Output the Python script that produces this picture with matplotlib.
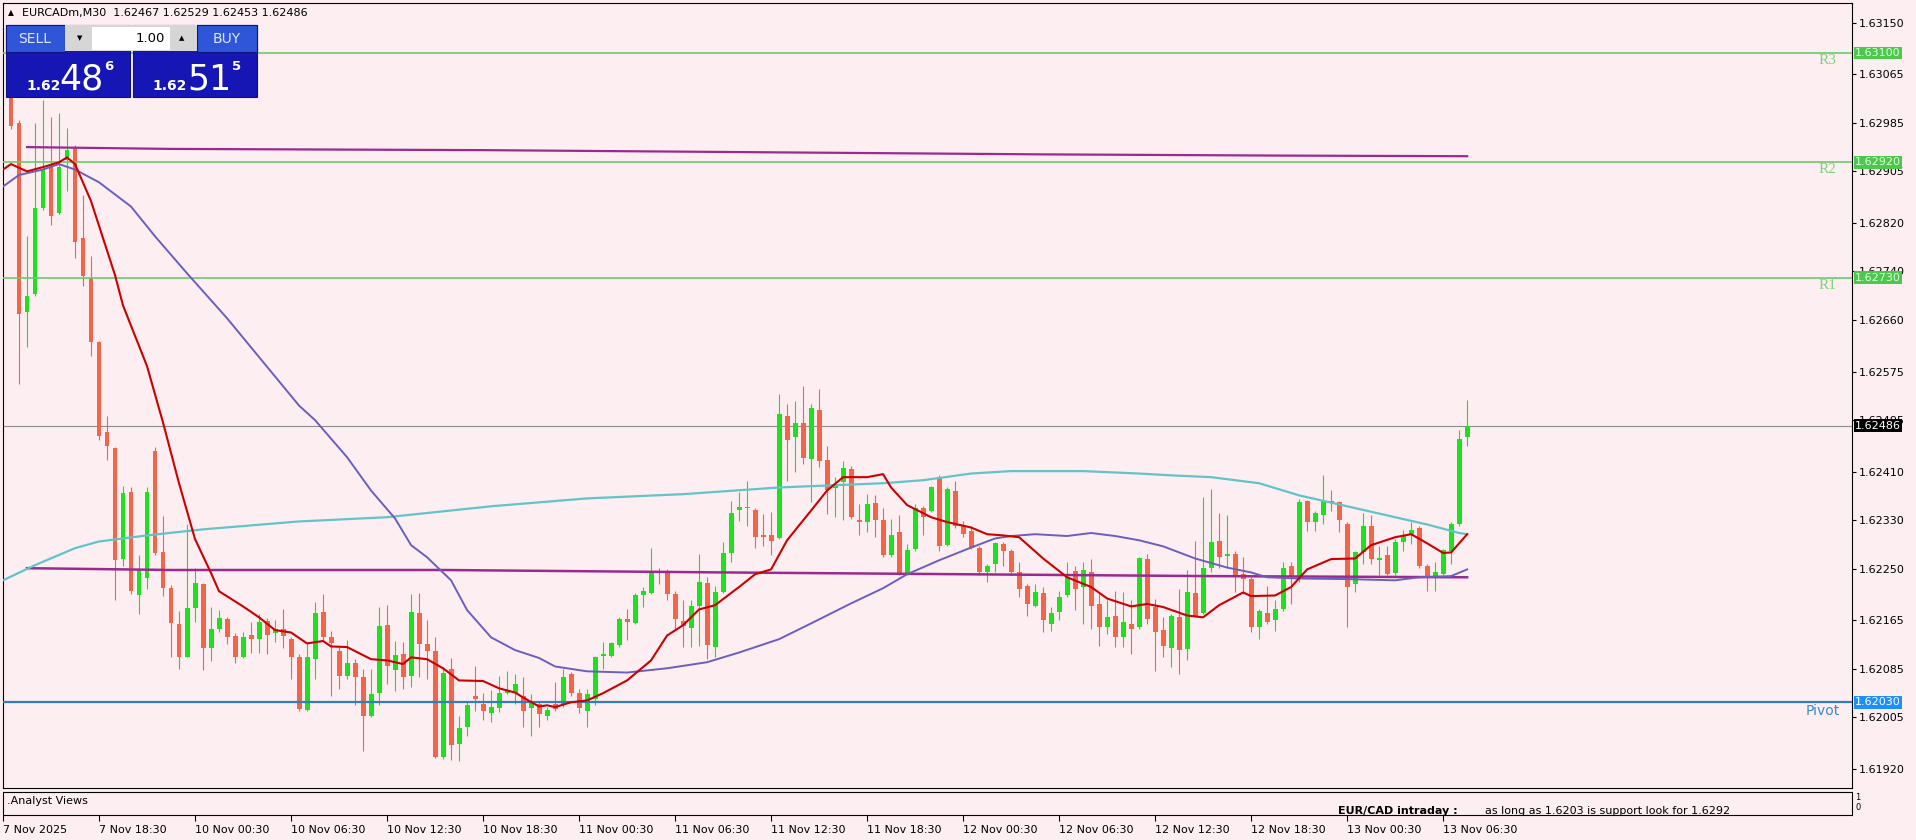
import matplotlib
matplotlib.use("Agg")
import matplotlib.pyplot as plt
import matplotlib.transforms as mtransforms
from matplotlib.patches import Rectangle


# M30 candles, bar 1 .. 183 (bar 0 sits under the left frame)
opens = [1.63030, 1.62985, 1.62673, 1.62703, 1.62844, 1.62912, 1.62837, 1.62923, 1.62944, 1.62796,
         1.62730, 1.62624, 1.62475, 1.62449, 1.62266, 1.62376, 1.62206, 1.62234, 1.62444, 1.62278,
         1.62219, 1.62159, 1.62105, 1.62185, 1.62225, 1.62119, 1.62151, 1.62167, 1.62139, 1.62105,
         1.62141, 1.62134, 1.62164, 1.62144, 1.62151, 1.62134, 1.62104, 1.62017, 1.62101, 1.62178,
         1.62137, 1.62115, 1.62074, 1.62094, 1.62071, 1.62008, 1.62045, 1.62158, 1.62083, 1.62110,
         1.62074, 1.62177, 1.62126, 1.62114, 1.61939, 1.62085, 1.61962, 1.61990, 1.62040, 1.62027,
         1.62012, 1.62021, 1.62045, 1.62046, 1.62041, 1.62021, 1.62027, 1.62008, 1.62027, 1.62025,
         1.62076, 1.62045, 1.62016, 1.62035, 1.62106, 1.62107, 1.62125, 1.62167, 1.62160, 1.62206,
         1.62210, 1.62247, 1.62244, 1.62209, 1.62164, 1.62153, 1.62188, 1.62226, 1.62121, 1.62211,
         1.62276, 1.62347, 1.62350, 1.62347, 1.62306, 1.62306, 1.62301, 1.62501, 1.62468, 1.62490,
         1.62431, 1.62512, 1.62429, 1.62383, 1.62393, 1.62415, 1.62331, 1.62327, 1.62358, 1.62330,
         1.62272, 1.62310, 1.62243, 1.62283, 1.62351, 1.62346, 1.62401, 1.62290, 1.62379, 1.62321,
         1.62313, 1.62284, 1.62244, 1.62258, 1.62291, 1.62280, 1.62244, 1.62222, 1.62189, 1.62210,
         1.62159, 1.62178, 1.62206, 1.62247, 1.62220, 1.62244, 1.62192, 1.62154, 1.62173, 1.62138,
         1.62159, 1.62154, 1.62266, 1.62187, 1.62149, 1.62120, 1.62171, 1.62118, 1.62210, 1.62177,
         1.62252, 1.62295, 1.62271, 1.62275, 1.62241, 1.62233, 1.62154, 1.62177, 1.62166, 1.62184,
         1.62255, 1.62235, 1.62361, 1.62327, 1.62339, 1.62361, 1.62360, 1.62324, 1.62225, 1.62277,
         1.62321, 1.62265, 1.62272, 1.62243, 1.62294, 1.62306, 1.62318, 1.62255, 1.62237, 1.62242,
         1.62280, 1.62323, 1.62467]
highs = [1.63045, 1.62990, 1.62798, 1.62984, 1.63023, 1.62994, 1.63001, 1.62976, 1.62949, 1.62866,
         1.62766, 1.62626, 1.62501, 1.62451, 1.62387, 1.62384, 1.62273, 1.62384, 1.62451, 1.62337,
         1.62223, 1.62180, 1.62323, 1.62251, 1.62226, 1.62187, 1.62182, 1.62171, 1.62144, 1.62146,
         1.62162, 1.62176, 1.62169, 1.62166, 1.62184, 1.62137, 1.62110, 1.62127, 1.62195, 1.62209,
         1.62148, 1.62121, 1.62132, 1.62101, 1.62085, 1.62085, 1.62187, 1.62191, 1.62131, 1.62129,
         1.62209, 1.62210, 1.62165, 1.62137, 1.62088, 1.62103, 1.62008, 1.62030, 1.62090, 1.62045,
         1.62050, 1.62074, 1.62082, 1.62077, 1.62071, 1.62043, 1.62030, 1.62022, 1.62063, 1.62085,
         1.62080, 1.62052, 1.62052, 1.62107, 1.62130, 1.62129, 1.62170, 1.62184, 1.62210, 1.62220,
         1.62285, 1.62252, 1.62250, 1.62214, 1.62198, 1.62198, 1.62275, 1.62236, 1.62221, 1.62294,
         1.62362, 1.62376, 1.62395, 1.62351, 1.62340, 1.62343, 1.62538, 1.62522, 1.62527, 1.62552,
         1.62522, 1.62546, 1.62453, 1.62401, 1.62427, 1.62420, 1.62356, 1.62373, 1.62371, 1.62351,
         1.62332, 1.62339, 1.62291, 1.62357, 1.62354, 1.62387, 1.62404, 1.62384, 1.62395, 1.62329,
         1.62320, 1.62287, 1.62258, 1.62294, 1.62294, 1.62283, 1.62262, 1.62225, 1.62225, 1.62220,
         1.62187, 1.62214, 1.62262, 1.62255, 1.62261, 1.62266, 1.62209, 1.62198, 1.62214, 1.62211,
         1.62198, 1.62269, 1.62274, 1.62200, 1.62170, 1.62176, 1.62217, 1.62248, 1.62296, 1.62369,
         1.62382, 1.62342, 1.62339, 1.62280, 1.62269, 1.62236, 1.62184, 1.62222, 1.62198, 1.62261,
         1.62261, 1.62365, 1.62364, 1.62346, 1.62404, 1.62380, 1.62362, 1.62327, 1.62280, 1.62342,
         1.62338, 1.62288, 1.62288, 1.62299, 1.62314, 1.62327, 1.62321, 1.62258, 1.62262, 1.62283,
         1.62327, 1.62478, 1.62529]
lows = [1.62975, 1.62555, 1.62616, 1.62700, 1.62841, 1.62816, 1.62834, 1.62873, 1.62762, 1.62716,
        1.62601, 1.62462, 1.62430, 1.62198, 1.62255, 1.62209, 1.62176, 1.62216, 1.62273, 1.62205,
        1.62105, 1.62085, 1.62104, 1.62162, 1.62084, 1.62098, 1.62146, 1.62126, 1.62094, 1.62103,
        1.62112, 1.62112, 1.62109, 1.62130, 1.62119, 1.62069, 1.62016, 1.62016, 1.62068, 1.62132,
        1.62041, 1.62052, 1.62068, 1.62025, 1.61950, 1.62005, 1.62025, 1.62060, 1.62049, 1.62052,
        1.62055, 1.62071, 1.62068, 1.61938, 1.61936, 1.61935, 1.61934, 1.61975, 1.62016, 1.62001,
        1.61997, 1.62014, 1.62043, 1.62027, 1.61989, 1.61975, 1.61989, 1.62001, 1.62015, 1.62022,
        1.62041, 1.62012, 1.61989, 1.62025, 1.62085, 1.62105, 1.62121, 1.62133, 1.62159, 1.62187,
        1.62209, 1.62225, 1.62198, 1.62151, 1.62121, 1.62121, 1.62123, 1.62101, 1.62104, 1.62210,
        1.62261, 1.62329, 1.62321, 1.62285, 1.62288, 1.62272, 1.62299, 1.62395, 1.62409, 1.62423,
        1.62360, 1.62417, 1.62340, 1.62335, 1.62330, 1.62332, 1.62305, 1.62310, 1.62302, 1.62269,
        1.62269, 1.62240, 1.62239, 1.62280, 1.62305, 1.62343, 1.62280, 1.62288, 1.62318, 1.62302,
        1.62283, 1.62240, 1.62228, 1.62244, 1.62255, 1.62240, 1.62203, 1.62173, 1.62187, 1.62145,
        1.62148, 1.62165, 1.62203, 1.62182, 1.62159, 1.62151, 1.62123, 1.62143, 1.62121, 1.62121,
        1.62110, 1.62151, 1.62159, 1.62082, 1.62104, 1.62088, 1.62076, 1.62099, 1.62170, 1.62176,
        1.62244, 1.62252, 1.62252, 1.62211, 1.62209, 1.62145, 1.62134, 1.62159, 1.62147, 1.62181,
        1.62192, 1.62228, 1.62313, 1.62312, 1.62324, 1.62345, 1.62310, 1.62154, 1.62211, 1.62258,
        1.62258, 1.62239, 1.62239, 1.62240, 1.62280, 1.62291, 1.62252, 1.62213, 1.62214, 1.62239,
        1.62258, 1.62321, 1.62453]
closes = [1.62980, 1.62670, 1.62699, 1.62844, 1.62909, 1.62832, 1.62912, 1.62941, 1.62789, 1.62732,
          1.62624, 1.62469, 1.62453, 1.62264, 1.62375, 1.62214, 1.62248, 1.62376, 1.62276, 1.62219,
          1.62161, 1.62105, 1.62185, 1.62226, 1.62119, 1.62151, 1.62169, 1.62137, 1.62104, 1.62137,
          1.62134, 1.62162, 1.62141, 1.62151, 1.62139, 1.62105, 1.62019, 1.62104, 1.62177, 1.62137,
          1.62127, 1.62074, 1.62094, 1.62072, 1.62008, 1.62044, 1.62156, 1.62090, 1.62108, 1.62071,
          1.62179, 1.62126, 1.62114, 1.61940, 1.62079, 1.61960, 1.61988, 1.62026, 1.62035, 1.62015,
          1.62023, 1.62046, 1.62049, 1.62060, 1.62016, 1.62028, 1.62011, 1.62017, 1.62019, 1.62072,
          1.62046, 1.62021, 1.62043, 1.62104, 1.62110, 1.62127, 1.62167, 1.62163, 1.62206, 1.62214,
          1.62244, 1.62245, 1.62209, 1.62167, 1.62155, 1.62188, 1.62228, 1.62125, 1.62211, 1.62276,
          1.62342, 1.62352, 1.62352, 1.62303, 1.62303, 1.62295, 1.62505, 1.62462, 1.62490, 1.62433,
          1.62515, 1.62427, 1.62380, 1.62390, 1.62416, 1.62335, 1.62327, 1.62356, 1.62331, 1.62272,
          1.62306, 1.62242, 1.62281, 1.62351, 1.62335, 1.62384, 1.62288, 1.62382, 1.62321, 1.62307,
          1.62285, 1.62244, 1.62254, 1.62292, 1.62280, 1.62244, 1.62217, 1.62192, 1.62211, 1.62166,
          1.62177, 1.62203, 1.62236, 1.62217, 1.62248, 1.62188, 1.62154, 1.62171, 1.62137, 1.62162,
          1.62151, 1.62268, 1.62167, 1.62145, 1.62123, 1.62173, 1.62116, 1.62211, 1.62173, 1.62251,
          1.62294, 1.62269, 1.62275, 1.62236, 1.62233, 1.62154, 1.62180, 1.62162, 1.62184, 1.62251,
          1.62236, 1.62360, 1.62327, 1.62342, 1.62361, 1.62358, 1.62331, 1.62220, 1.62277, 1.62320,
          1.62266, 1.62268, 1.62242, 1.62294, 1.62305, 1.62314, 1.62255, 1.62236, 1.62244, 1.62281,
          1.62324, 1.62464, 1.62486]

# moving averages (bar index, price)
red_ma_bars = [0, 1, 3, 5, 7, 8, 9, 11, 14, 15, 18, 20, 22, 24, 26, 27, 30, 32, 34, 36,
               38, 40, 41, 43, 46, 48, 50, 51, 53, 55, 57, 60, 62, 64, 65, 67, 68, 69, 71, 73,
               75, 78, 81, 83, 85, 87, 89, 92, 94, 96, 98, 101, 103, 105, 108, 110, 111, 113, 116, 118,
               121, 123, 125, 127, 130, 133, 136, 138, 141, 143, 145, 148, 150, 152, 155, 156, 159, 161, 163, 166,
               169, 171, 174, 176, 178, 180, 181, 183]
red_ma_vals = [1.62908, 1.62917, 1.62905, 1.62912, 1.62920, 1.62928, 1.62917, 1.62856, 1.62734, 1.62684,
               1.62584, 1.62491, 1.62391, 1.62299, 1.62243, 1.62213, 1.62188, 1.62170, 1.62149, 1.62145,
               1.62127, 1.62131, 1.62122, 1.62121, 1.62101, 1.62099, 1.62093, 1.62104, 1.62101, 1.62086,
               1.62066, 1.62065, 1.62053, 1.62046, 1.62038, 1.62023, 1.62025, 1.62022, 1.62030, 1.62033,
               1.62045, 1.62066, 1.62099, 1.62140, 1.62157, 1.62183, 1.62190, 1.62220, 1.62241, 1.62249,
               1.62297, 1.62346, 1.62379, 1.62401, 1.62401, 1.62406, 1.62384, 1.62355, 1.62335, 1.62327,
               1.62318, 1.62307, 1.62305, 1.62302, 1.62267, 1.62236, 1.62220, 1.62201, 1.62188, 1.62192,
               1.62187, 1.62173, 1.62170, 1.62190, 1.62211, 1.62205, 1.62206, 1.62220, 1.62249, 1.62266,
               1.62267, 1.62289, 1.62302, 1.62307, 1.62292, 1.62276, 1.62277, 1.62307]

blue_ma_bars = [0, 2, 5, 7, 9, 12, 16, 19, 23, 28, 32, 37, 39, 43, 46, 49, 51, 53, 56, 58,
                61, 64, 67, 69, 73, 78, 83, 88, 92, 97, 101, 106, 110, 113, 117, 121, 124, 126, 129, 133,
                136, 139, 142, 145, 149, 153, 156, 158, 162, 168, 174, 177, 181, 183]
blue_ma_vals = [1.62880, 1.62899, 1.62908, 1.62917, 1.62908, 1.62887, 1.62847, 1.62798, 1.62737, 1.62663,
                1.62599, 1.62519, 1.62495, 1.62434, 1.62379, 1.62333, 1.62289, 1.62269, 1.62231, 1.62182,
                1.62137, 1.62116, 1.62103, 1.62089, 1.62081, 1.62079, 1.62086, 1.62096, 1.62112, 1.62134,
                1.62160, 1.62193, 1.62218, 1.62241, 1.62264, 1.62285, 1.62300, 1.62304, 1.62307, 1.62304,
                1.62309, 1.62304, 1.62297, 1.62287, 1.62267, 1.62252, 1.62244, 1.62236, 1.62234, 1.62233,
                1.62231, 1.62236, 1.62238, 1.62249]

cyan_ma_bars = [0, 4, 9, 12, 18, 25, 37, 48, 61, 73, 85, 97, 110, 115, 121, 126, 135, 142, 146, 151,
                157, 162, 167, 174, 178, 182, 183]
cyan_ma_vals = [1.62231, 1.62256, 1.62284, 1.62295, 1.62305, 1.62315, 1.62328, 1.62335, 1.62353, 1.62366,
                1.62373, 1.62384, 1.62391, 1.62396, 1.62407, 1.62411, 1.62411, 1.62407, 1.62404, 1.62401,
                1.62391, 1.62371, 1.62356, 1.62335, 1.62323, 1.62309, 1.62307]

upper_band_bars = [3, 21, 60, 100, 130, 160, 183]
upper_band_vals = [1.62945, 1.62942, 1.62940, 1.62936, 1.62933, 1.62931, 1.62930]
lower_band_bars = [3, 21, 55, 90, 120, 150, 183]
lower_band_vals = [1.62251, 1.62248, 1.62248, 1.62244, 1.62241, 1.62238, 1.62236]

level_names = ["R3", "R2", "R1", "Pivot"]
level_prices = [1.63100, 1.62920, 1.62730, 1.62030]
last_price = 1.62486

price_ticks = [1.63150, 1.63065, 1.62985, 1.62905, 1.62820, 1.62740, 1.62660, 1.62575,
               1.62495, 1.62410, 1.62330, 1.62250, 1.62165, 1.62085, 1.62005, 1.61920]
time_labels = ["7 Nov 2025", "7 Nov 18:30", "10 Nov 00:30", "10 Nov 06:30", "10 Nov 12:30",
               "10 Nov 18:30", "11 Nov 00:30", "11 Nov 06:30", "11 Nov 12:30", "11 Nov 18:30",
               "12 Nov 00:30", "12 Nov 06:30", "12 Nov 12:30", "12 Nov 18:30", "13 Nov 00:30",
               "13 Nov 06:30"]

W, H = 1916, 840
BG = "#fdeef2"
BULL = "#1fe01f"
BEAR = "#f26549"


def fx(x):
    return x / W


def fy(y):
    return 1 - y / H


def draw_candles(ax):
    bars = list(range(1, len(opens) + 1))
    colors = [BULL if c >= o else BEAR for o, c in zip(opens, closes)]
    ax.vlines(bars, lows, highs, colors=colors, linewidth=0.8, zorder=3)
    bottoms = [min(o, c) for o, c in zip(opens, closes)]
    heights = [max(abs(c - o), 0.000015) for o, c in zip(opens, closes)]
    ax.bar(bars, heights, bottom=bottoms, width=0.62, color=colors, linewidth=0, zorder=3)


def draw_levels(ax):
    right = mtransforms.blended_transform_factory(ax.transAxes, ax.transData)
    px = 0.0000165  # price per screen pixel
    for name, price in zip(level_names, level_prices):
        if name == "Pivot":
            ax.axhline(price, color="#2f7fc0", lw=1.6, zorder=4)
            ax.text(0.9935, price - 2 * px, name, transform=right, ha="right", va="top",
                    fontsize=10, color="#3a8ad0", zorder=6)
            box = "#1e8fff"
            txt = "white"
        else:
            ax.axhline(price, color="#6acb6a", lw=1.2, zorder=4)
            ax.text(0.9865, price - 1 * px, name, transform=right, ha="center", va="top",
                    fontsize=11, color="#7fd27f", family="Liberation Serif", zorder=6)
            box = "#4cc94c"
            txt = "#d9ffd9"
        ax.text(1.0017, price, "%.5f" % price, transform=right, ha="left", va="center",
                fontsize=8, color=txt, clip_on=False, zorder=10,
                bbox=dict(boxstyle="square,pad=0.12", fc=box, ec="none"))

    ax.axhline(last_price, color="#8c8c8c", lw=0.8, zorder=2)
    ax.text(1.0017, last_price, "%.5f" % last_price, transform=right, ha="left", va="center",
            fontsize=8, color="white", clip_on=False, zorder=10,
            bbox=dict(boxstyle="square,pad=0.12", fc="black", ec="none"))


def draw_panel(fig):
    def rect(x0, y0, x1, y1, fc, ec="none", z=20):
        r = Rectangle((fx(x0), fy(y1)), fx(x1) - fx(x0), fy(y0) - fy(y1),
                      transform=fig.transFigure, fc=fc, ec=ec, lw=0.8, zorder=z)
        fig.add_artist(r)

    rect(6, 25, 130, 97, "#1616b4", "#0c1480")
    rect(133, 25, 257, 97, "#1616b4", "#0c1480")
    rect(6, 25, 65, 52, "#2f56d8", "#0c1480", 21)
    rect(197, 25, 257, 52, "#2f56d8", "#0c1480", 21)
    rect(65, 25, 197, 51, "#d6d6d6", "none", 21)
    rect(92, 27, 170, 50, "white", "none", 22)

    fig.text(fx(35), fy(39), "SELL", color="#dfe7ff", fontsize=10, ha="center", va="center", zorder=25)
    fig.text(fx(227), fy(39), "BUY", color="#dfe7ff", fontsize=10, ha="center", va="center", zorder=25)
    fig.text(fx(165), fy(38), "1.00", color="black", fontsize=9.5, ha="right", va="center", zorder=25)
    fig.text(fx(80), fy(38), "\u25bc", color="black", fontsize=5, ha="center", va="center", zorder=25)
    fig.text(fx(182), fy(38), "\u25b2", color="black", fontsize=5, ha="center", va="center", zorder=25)

    fig.text(fx(26), fy(90), "1.62", color="white", fontsize=10, weight="bold", ha="left", va="baseline", zorder=25)
    fig.text(fx(59), fy(90), "48", color="white", fontsize=25, ha="left", va="baseline", zorder=25)
    fig.text(fx(104), fy(70), "6", color="white", fontsize=9.5, weight="bold", ha="left", va="baseline", zorder=25)
    fig.text(fx(152), fy(90), "1.62", color="white", fontsize=10, weight="bold", ha="left", va="baseline", zorder=25)
    fig.text(fx(187), fy(90), "51", color="white", fontsize=25, ha="left", va="baseline", zorder=25)
    fig.text(fx(232), fy(70), "5", color="white", fontsize=9.5, weight="bold", ha="left", va="baseline", zorder=25)


def main():
    plt.rcParams["font.family"] = ["DejaVu Sans"]
    fig = plt.figure(figsize=(W / 100, H / 100), dpi=100, facecolor=BG)

    ax = fig.add_axes([fx(3), fy(788), (1852 - 3) / W, (788 - 3) / H], facecolor=BG)
    ax2 = fig.add_axes([fx(3), fy(815), (1852 - 3) / W, (815 - 792) / H], facecolor=BG)

    draw_candles(ax)
    ax.plot(upper_band_bars, upper_band_vals, color="#9b2a8f", lw=1.6, zorder=5)
    ax.plot(lower_band_bars, lower_band_vals, color="#9b2a8f", lw=1.8, zorder=5)
    ax.plot(cyan_ma_bars, cyan_ma_vals, color="#62c4c8", lw=1.6, zorder=5)
    ax.plot(blue_ma_bars, blue_ma_vals, color="#6a5fc0", lw=1.4, zorder=5)
    ax.plot(red_ma_bars, red_ma_vals, color="#cc0000", lw=1.5, zorder=6)
    draw_levels(ax)

    ax.set_xlim(0, 231.1)
    ax.set_ylim(1.618887, 1.631825)
    ax.set_xticks([])
    ax.yaxis.tick_right()
    ax.set_yticks(price_ticks)
    ax.set_yticklabels(["%.5f" % p for p in price_ticks])
    ax.tick_params(axis="y", length=3, pad=2, labelsize=8, direction="out")

    # indicator sub-window
    ax2.set_xlim(0, 231.1)
    ax2.set_ylim(0, 1)
    ax2.set_xticks(list(range(0, 12 * len(time_labels), 12)))
    ax2.set_xticklabels(time_labels, ha="left")
    ax2.tick_params(axis="x", length=4, pad=3, labelsize=8, direction="out")
    ax2.set_yticks([])
    ax2.text(0.002, 0.6, ".Analyst Views", transform=ax2.transAxes, fontsize=8, va="center")
    fig.text(fx(1855), fy(798), "1", fontsize=6, ha="left", va="center")
    fig.text(fx(1855), fy(808), "0", fontsize=6, ha="left", va="center")

    fig.text(fx(8), fy(13), "\u25b2", fontsize=5.5, ha="left", va="center")
    fig.text(fx(22), fy(13), "EURCADm,M30  1.62467 1.62529 1.62453 1.62486", fontsize=8, ha="left", va="center")
    fig.text(fx(1338), fy(814), "EUR/CAD intraday :", fontsize=8, weight="bold", ha="left", va="baseline")
    fig.text(fx(1485), fy(814), "as long as 1.6203 is support look for 1.6292", fontsize=8, ha="left", va="baseline")

    draw_panel(fig)
    plt.savefig("out.png", dpi=100, facecolor=BG)


if __name__ == "__main__":
    main()
